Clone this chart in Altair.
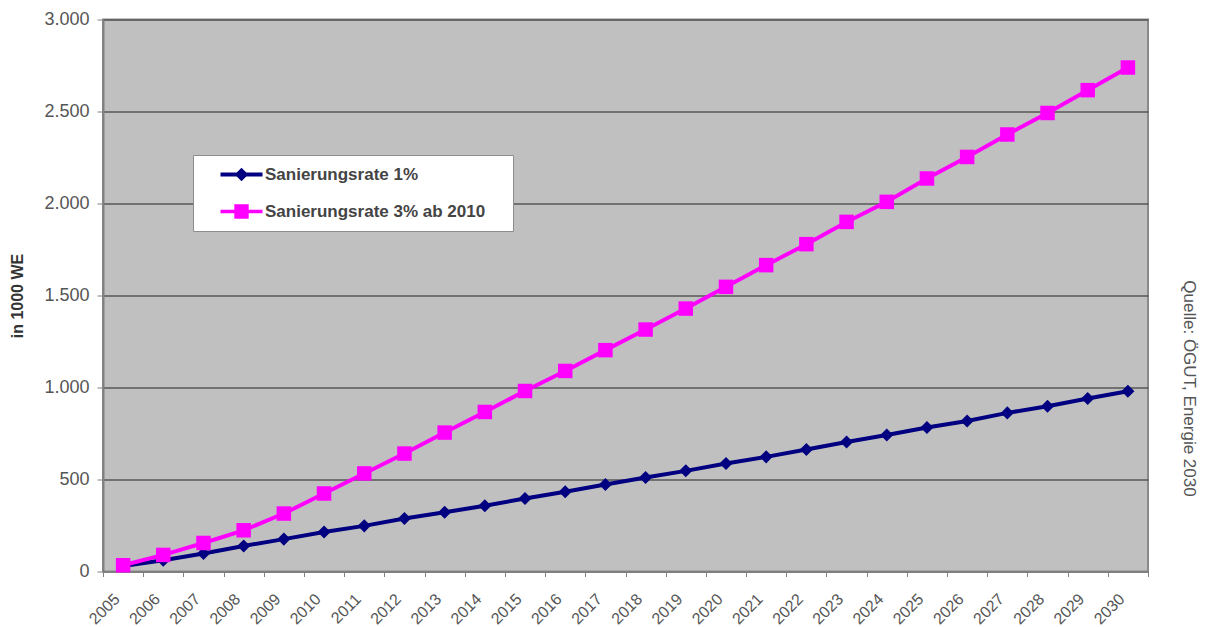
import altair as alt
import pandas as pd

# Jahre (Kategorien der x-Achse)
years = [str(y) for y in range(2005, 2031)]

# Sanierte Wohneinheiten, in 1000 WE
rate_1 = [30, 61, 98, 139, 176, 215, 248, 288, 322, 357, 397, 433, 473,
          511, 547, 587, 623, 663, 704, 742, 783, 818, 862, 898, 940, 980]
rate_3 = [34, 90, 155, 224, 315, 424, 533, 641, 755, 867, 981, 1090, 1203,
          1315, 1429, 1547, 1665, 1779, 1900, 2009, 2136, 2253, 2375, 2492, 2616, 2739]

series_names = ["Sanierungsrate 1%", "Sanierungsrate 3% ab 2010"]
series_colors = ["#000080", "#FF00FF"]
y_ticks = [0, 500, 1000, 1500, 2000, 2500, 3000]
y_title = "in 1000 WE"
source_note = "Quelle: ÖGUT, Energie 2030"

df = pd.DataFrame({
    "Jahr": years * 2,
    "Wert": rate_1 + rate_3,
    "Reihe": [series_names[0]] * len(years) + [series_names[1]] * len(years),
})

x_enc = alt.X(
    "Jahr:N",
    sort=years,
    scale=alt.Scale(type="band", paddingInner=0, paddingOuter=0),
    axis=alt.Axis(
        title=None,
        labelAngle=-45,
        labelFontSize=16,
        labelColor="#555555",
        labelPadding=14,
        labelOffset=-12,
        tickBand="extent",
        tickSize=5,
        tickColor="#808080",
        domainColor="#808080",
        domainWidth=2,
        grid=False,
    ),
)
y_enc = alt.Y(
    "Wert:Q",
    scale=alt.Scale(domain=[0, 3000], nice=False),
    axis=alt.Axis(
        values=y_ticks,
        labelExpr="replace(format(datum.value, ','), ',', '.')",
        labelFontSize=18,
        labelColor="#555555",
        labelPadding=8,
        tickSize=6,
        tickColor="#808080",
        domainColor="#808080",
        domainWidth=2,
        grid=True,
        gridColor="#575757",
        gridWidth=1.5,
        title=y_title,
        titleFontSize=16,
        titleFontWeight="bold",
        titleColor="#333333",
        titleX=-86,
        titleY=276,
        titleAngle=-90,
        titleAlign="center",
        titleBaseline="middle",
    ),
)

base = alt.Chart(df)


def series_layers(name, color, shape, size):
    sub = base.transform_filter(alt.datum.Reihe == name)
    line = sub.mark_line(color=color, strokeWidth=4).encode(x=x_enc, y=y_enc)
    pts = sub.mark_point(color=color, filled=True, shape=shape, size=size,
                         opacity=1).encode(x=x_enc, y=y_enc)
    return [line, pts]


# Legend symbols: line segment with marker in the middle; the trailing move
# widens the legend box to the right of the labels
legend_diamond = ("M-2.625,-0.25H2.625V0.25H-2.625Z "
                  "M0,-0.85L0.85,0L0,0.85L-0.85,0Z M32.5,0")
legend_square = ("M-2.625,-0.22H2.625V0.22H-2.625Z "
                 "M-0.9,-0.9H0.9V0.9H-0.9Z M32.5,0")

legend_cfg = alt.Legend(
    orient="none",
    legendX=90,
    legendY=135.5,
    title=None,
    fillColor="white",
    strokeColor="#8c8c8c",
    padding=11,
    symbolSize=256,
    symbolStrokeWidth=0,
    symbolOpacity=1,
    symbolOffset=29,
    labelOffset=15,
    rowPadding=19,
    labelFontSize=17,
    labelFontWeight="bold",
    labelColor="#444444",
    labelLimit=400,
)

legend_layer = base.mark_point(filled=True, opacity=0).encode(
    x=x_enc,
    y=y_enc,
    color=alt.Color("Reihe:N", scale=alt.Scale(domain=series_names, range=series_colors),
                    legend=legend_cfg),
    shape=alt.Shape("Reihe:N", scale=alt.Scale(domain=series_names,
                                               range=[legend_diamond, legend_square]),
                    legend=legend_cfg),
)

note = alt.Chart(pd.DataFrame({"t": [source_note]})).mark_text(
    angle=90, fontSize=17, color="#555555", align="center", baseline="middle",
    font="Liberation Sans",
).encode(text="t:N", x=alt.value(1086), y=alt.value(369))

layers = (series_layers(series_names[0], series_colors[0], "diamond", 170)
          + series_layers(series_names[1], series_colors[1], "square", 210)
          + [legend_layer, note])

chart = alt.layer(*layers).properties(
    width=1045,
    height=552,
    autosize=alt.AutoSizeParams(type="none"),
    padding={"left": 103, "top": 19.5, "right": 60, "bottom": 55.5},
    background="white",
).configure(
    font="Liberation Sans",
).configure_view(
    fill="#c0c0c0",
    stroke="#8a8a8a",
    strokeWidth=2,
)

chart.save("out.html", embed_options={"renderer": "svg", "actions": False})
